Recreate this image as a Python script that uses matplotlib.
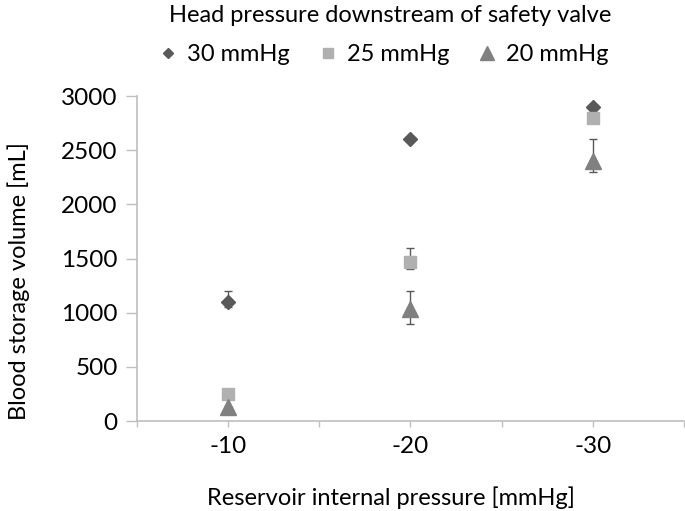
import matplotlib.pyplot as plt

plt.rcParams["font.family"] = ["Lato", "DejaVu Sans"]

pressures = [-10, -20, -30]
tick_positions = [-5, -10, -15, -20, -25, -30, -35]
series_labels = ["30 mmHg", "25 mmHg", "20 mmHg"]

vol_30 = [1100, 2600, 2900]
vol_25 = [250, 1470, 2800]
vol_20 = [130, 1030, 2400]

err_low_30 = [50, 0, 0]
err_high_30 = [100, 0, 0]
err_low_25 = [0, 70, 0]
err_high_25 = [0, 130, 0]
err_low_20 = [0, 130, 100]
err_high_20 = [0, 170, 200]

colors = ["#595959", "#b0b0b0", "#808080"]
markers = ["D", "s", "^"]
sizes = [7, 9, 12]

fig = plt.figure(figsize=(6.85, 5.11), dpi=100)
ax = fig.add_axes([0.2, 0.176, 0.7985, 0.636])

series = [
    (vol_30, err_low_30, err_high_30),
    (vol_25, err_low_25, err_high_25),
    (vol_20, err_low_20, err_high_20),
]
handles = []
for (vals, lo, hi), col, mk, ms, lab in zip(series, colors, markers, sizes, series_labels):
    ax.errorbar(pressures, vals, yerr=[lo, hi], fmt="none", ecolor="#595959",
                elinewidth=1, capsize=3, capthick=1, zorder=2)
    h, = ax.plot(pressures, vals, linestyle="none", marker=mk, markersize=ms,
                 color=col, markeredgecolor=col, label=lab, zorder=3)
    handles.append(h)

ax.set_xlim(-5, -35)
ax.set_ylim(0, 3000)
ax.set_yticks(range(0, 3001, 500))
ax.set_xticks(tick_positions)
ax.set_xticklabels([str(t) if t % 10 == 0 else "" for t in tick_positions])

for side in ["top", "right"]:
    ax.spines[side].set_visible(False)
for side in ["left", "bottom"]:
    ax.spines[side].set_color("#bfbfbf")
    ax.spines[side].set_linewidth(1.2)
ax.tick_params(axis="y", length=8, width=1, color="#bfbfbf", labelsize=17.5, pad=6)
ax.tick_params(axis="x", length=4, width=1, color="#bfbfbf", labelsize=17.5, pad=7)

fig.text(0.027, 0.45, "Blood storage volume [mL]", rotation=90, ha="center",
         va="center", fontsize=17)
fig.text(0.57, 0.027, "Reservoir internal pressure [mmHg]", ha="center",
         va="center", fontsize=17)
fig.text(0.57, 0.97, "Head pressure downstream of safety valve", ha="center",
         va="center", fontsize=17)
fig.legend(handles=handles, loc="center", bbox_to_anchor=(0.56, 0.893), ncol=3,
           frameon=False, fontsize=17, handlelength=0.8, handletextpad=0.4,
           columnspacing=1.2, markerscale=0.8)

fig.savefig("out.png", dpi=100)
